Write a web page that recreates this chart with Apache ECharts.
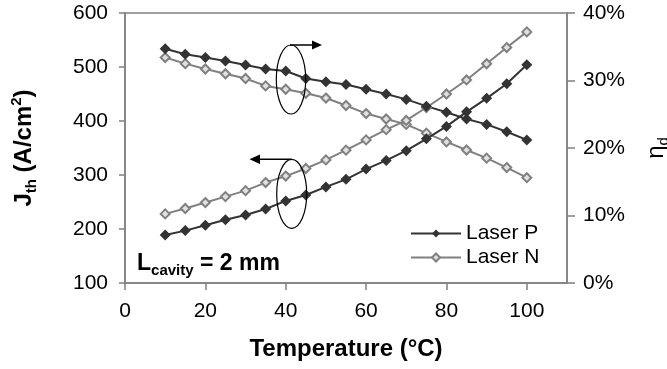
<!DOCTYPE html>
<html>
<head>
<meta charset="utf-8">
<script src="https://cdn.jsdelivr.net/npm/echarts@6/dist/echarts.min.js"></script>
<style>
  html, body { margin: 0; padding: 0; background: #fff; }
  #chart { width: 667px; height: 369px; }
</style>
</head>
<body>
<div id="chart"></div>
<script>
// temperature (°C)
const temperatures = [10, 15, 20, 25, 30, 35, 40, 45, 50, 55, 60, 65, 70, 75, 80, 85, 90, 95, 100]
// threshold current density (A/cm2)
const jthLaserP = [189, 197, 207, 217, 226, 237, 252, 263, 278, 292, 311, 327, 345, 367, 390, 417, 442, 469, 504]
const jthLaserN = [228, 238, 249, 260, 271, 286, 298, 312, 328, 346, 365, 384, 401, 425, 450, 476, 506, 536, 565]
// differential efficiency (%)
const etaLaserP = [34.7, 33.9, 33.4, 32.9, 32.3, 31.7, 31.4, 30.3, 29.8, 29.4, 28.7, 28.0, 27.2, 26.2, 25.3, 24.3, 23.5, 22.4, 21.2]
const etaLaserN = [33.4, 32.5, 31.7, 31.0, 30.3, 29.2, 28.7, 28.1, 27.4, 26.3, 25.1, 24.3, 23.5, 22.2, 20.9, 19.7, 18.5, 17.1, 15.6]
const xTicks = [0, 20, 40, 60, 80, 100]

const FONT = '"Liberation Sans", Arial, sans-serif'
const AXIS_COLOR = '#808080'
const P_COLOR = '#333333'
const N_COLOR = '#808080'

const pairs = (vals) => temperatures.map((t, i) => [t, vals[i]])

const chart = echarts.init(document.getElementById('chart'))

const pStyle = {
  type: 'line',
  name: 'Laser P',
  symbol: 'diamond',
  symbolSize: 11,
  lineStyle: { color: P_COLOR, width: 2 },
  itemStyle: { color: P_COLOR },
  emphasis: { disabled: true }
}
const nStyle = {
  type: 'line',
  name: 'Laser N',
  symbol: 'diamond',
  symbolSize: 9,
  lineStyle: { color: N_COLOR, width: 2 },
  itemStyle: { color: '#e0e0e0', borderColor: N_COLOR, borderWidth: 2 },
  emphasis: { disabled: true }
}

const option = {
  animation: false,
  textStyle: { fontFamily: FONT },
  grid: {
    left: 125, right: 100, top: 13, bottom: 86,
    outerBoundsMode: 'none',
    containLabel: false,
    show: true, borderColor: AXIS_COLOR, borderWidth: 1.5
  },
  legend: {
    data: ['Laser P', 'Laser N'],
    orient: 'vertical',
    left: 405,
    top: 218,
    itemWidth: 50,
    itemHeight: 10,
    itemGap: 3,
    textStyle: { fontSize: 21, color: '#000', fontFamily: FONT }
  },
  xAxis: {
    type: 'value',
    min: 0,
    max: 110,
    interval: 20,
    name: 'Temperature (°C)',
    nameLocation: 'middle',
    nameGap: 54,
    nameTextStyle: { fontSize: 24, fontWeight: 'bold', color: '#000', fontFamily: FONT },
    axisLine: { lineStyle: { color: AXIS_COLOR, width: 1.5 } },
    axisTick: { length: 7, lineStyle: { color: AXIS_COLOR, width: 1.5 }, customValues: xTicks },
    axisLabel: { fontSize: 21, color: '#000', margin: 18, customValues: xTicks },
    splitLine: { show: false }
  },
  yAxis: [
    {
      type: 'value',
      min: 100,
      max: 600,
      interval: 100,
      name: '{m|J}{s|th}{m| (A/cm}{u|2}{m|)}',
      nameLocation: 'middle',
      nameRotate: 90,
      nameGap: 86,
      nameTextStyle: {
        color: '#000',
        rich: {
          m: { fontSize: 24, fontWeight: 'bold', fontFamily: FONT, lineHeight: 30, color: '#000' },
          s: { fontSize: 15, fontWeight: 'bold', fontFamily: FONT, verticalAlign: 'bottom', lineHeight: 24, color: '#000' },
          u: { fontSize: 15, fontWeight: 'bold', fontFamily: FONT, verticalAlign: 'top', lineHeight: 24, color: '#000' }
        }
      },
      axisLine: { show: true, lineStyle: { color: AXIS_COLOR, width: 1.5 } },
      axisTick: { show: true, length: 6, lineStyle: { color: AXIS_COLOR, width: 1.5 } },
      axisLabel: { fontSize: 21, color: '#000', margin: 17 },
      splitLine: { show: false }
    },
    {
      type: 'value',
      min: 0,
      max: 40,
      interval: 10,
      position: 'right',
      name: '{m|η}{s|d}',
      nameLocation: 'middle',
      nameRotate: 90,
      nameGap: 74,
      nameTextStyle: {
        color: '#000',
        rich: {
          m: { fontSize: 24, fontFamily: FONT, lineHeight: 30, color: '#000' },
          s: { fontSize: 15, fontFamily: FONT, verticalAlign: 'bottom', lineHeight: 24, color: '#000' }
        }
      },
      axisLine: { show: true, lineStyle: { color: AXIS_COLOR, width: 1.5 } },
      axisTick: { show: true, length: 8, lineStyle: { color: AXIS_COLOR, width: 1.5 } },
      axisLabel: { fontSize: 21, color: '#000', margin: 16, formatter: '{value}%' },
      splitLine: { show: false }
    }
  ],
  series: [
    Object.assign({}, nStyle, { yAxisIndex: 1, data: pairs(etaLaserN) }),
    Object.assign({}, nStyle, { yAxisIndex: 0, data: pairs(jthLaserN) }),
    Object.assign({}, pStyle, { yAxisIndex: 1, data: pairs(etaLaserP) }),
    Object.assign({}, pStyle, { yAxisIndex: 0, data: pairs(jthLaserP) })
  ],
  graphic: [
    // ellipse + arrow pointing to the efficiency axis
    { type: 'ellipse', shape: { cx: 291, cy: 79.5, rx: 14.7, ry: 34.5 }, style: { fill: null, stroke: '#000', lineWidth: 1.2 }, z: 100 },
    { type: 'line', shape: { x1: 290, y1: 45, x2: 313, y2: 45 }, style: { stroke: '#000', lineWidth: 1.5 }, z: 100 },
    { type: 'polygon', shape: { points: [[312, 40.5], [322, 45], [312, 49.5]] }, style: { fill: '#000' }, z: 100 },
    // ellipse + arrow pointing to the Jth axis
    { type: 'ellipse', shape: { cx: 291.7, cy: 193.8, rx: 15, ry: 34.5 }, style: { fill: null, stroke: '#000', lineWidth: 1.2 }, z: 100 },
    { type: 'line', shape: { x1: 291.7, y1: 159.3, x2: 259, y2: 159.3 }, style: { stroke: '#000', lineWidth: 1.5 }, z: 100 },
    { type: 'polygon', shape: { points: [[260, 154.5], [249.5, 159.3], [260, 164]] }, style: { fill: '#000' }, z: 100 },
    {
      type: 'text',
      x: 137,
      y: 264,
      z: 100,
      style: {
        text: '{a|L}{b|cavity}{a| = 2 mm}',
        verticalAlign: 'middle',
        rich: {
          a: { fontSize: 23, fontWeight: 'bold', fontFamily: FONT, fill: '#000', lineHeight: 28 },
          b: { fontSize: 15, fontWeight: 'bold', fontFamily: FONT, fill: '#000', verticalAlign: 'bottom', lineHeight: 22 }
        }
      }
    }
  ]
}

chart.setOption(option)
window.onresize = () => {
  chart.resize()
}
</script>
</body>
</html>
